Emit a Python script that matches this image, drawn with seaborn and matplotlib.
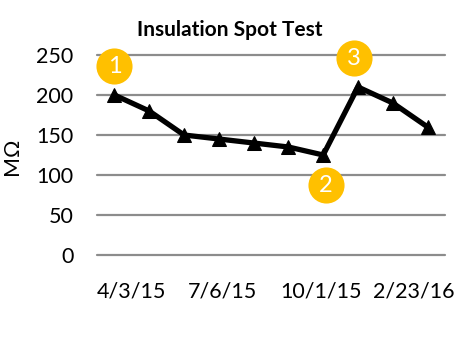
import matplotlib
matplotlib.use("Agg")
import matplotlib.pyplot as plt
import seaborn as sns
import pandas as pd

# Data
dates = ["4/3/15", "5/4/15", "6/5/15", "7/6/15", "8/3/15", "9/1/15",
         "10/1/15", "11/2/15", "12/14/15", "2/23/16"]
resistance = [200, 180, 150, 145, 140, 135, 125, 210, 190, 160]
tick_labels = ["4/3/15", "7/6/15", "10/1/15", "2/23/16"]
callout_labels = ["1", "2", "3"]
callout_values = [236, 87, 246]

# layout positions (category units)
tick_pos = [0.5, 3.12, 5.94, 8.61]
callout_pos = [0.0, 6.08, 6.88]

df = pd.DataFrame({"idx": range(len(dates)), "date": dates, "value": resistance})

sns.set_style("white")
plt.rcParams["font.family"] = ["Lato", "DejaVu Sans"]
plt.rcParams["text.color"] = "black"
plt.rcParams["axes.labelcolor"] = "black"

fig = plt.figure(figsize=(4.75, 3.42), dpi=100)
ax = fig.add_axes([97/475, 1-255/342, 348/475, 200/342])

sns.lineplot(data=df, x="idx", y="value", ax=ax, color="black", linewidth=3.8,
             marker="^", markersize=10, markeredgecolor="black", zorder=3)

ax.set_xlim(-0.5, len(dates) - 0.5)
ax.set_ylim(0, 250)
ax.set_yticks([0, 50, 100, 150, 200, 250])
ax.yaxis.grid(True, color="#8c8c8c", linewidth=1.6)
ax.set_axisbelow(True)
for gl in ax.get_ygridlines():
    gl.set_clip_on(False)
for s in ax.spines.values():
    s.set_visible(False)

ax.set_xticks(tick_pos)
ax.set_xticklabels(tick_labels)
ax.tick_params(axis="both", length=0, labelsize=15.5, colors="black")
ax.tick_params(axis="y", pad=17)
ax.tick_params(axis="x", pad=19)
ax.set_xlabel("")
ax.set_ylabel("MΩ", fontsize=15.5, color="black")
ax.yaxis.set_label_coords((22-97)/348, (255-156)/200)

fig.text(230/475, 1-30/342, "Insulation Spot Test", fontsize=15,
         fontweight="bold", ha="center", va="center", color="black")

for x, y, t in zip(callout_pos, callout_values, callout_labels):
    ax.plot([x], [y], marker="o", markersize=26, color="#FFC000",
            markeredgewidth=0, clip_on=False, zorder=4)
    ax.text(x, y, t, color="white", fontsize=17, ha="center", va="center",
            zorder=5, clip_on=False)

fig.savefig("out.png", dpi=100)
